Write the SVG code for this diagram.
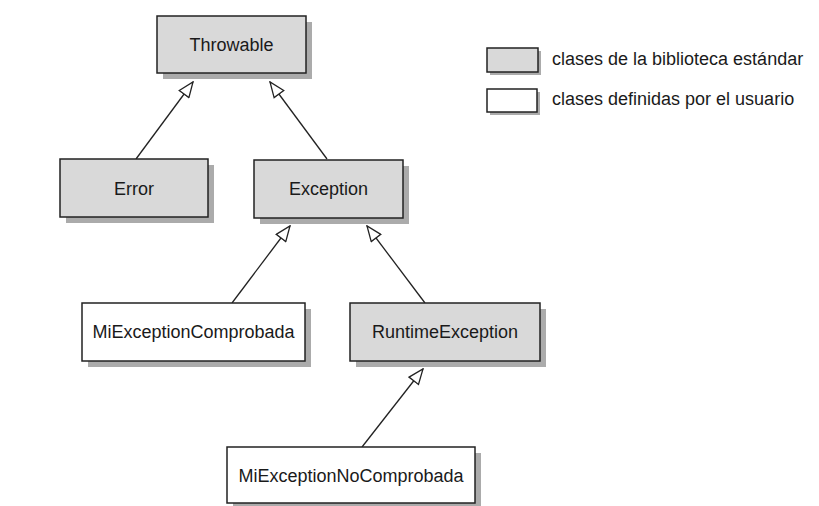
<svg xmlns="http://www.w3.org/2000/svg" width="819" height="506" viewBox="0 0 819 506">
<defs>
<style>
.shadow{fill:#ababab;}
.lib{fill:#d9d9d9;stroke:#222;stroke-width:1.5;}
.usr{fill:#fff;stroke:#222;stroke-width:1.5;}
.t{font-family:"Liberation Sans",Arial,sans-serif;font-size:18px;fill:#1a1a1a;text-anchor:middle;}
.lt{font-family:"Liberation Sans",Arial,sans-serif;font-size:18px;fill:#1a1a1a;}
.conn{stroke:#222;stroke-width:1.3;fill:none;marker-end:url(#tri);}
</style>
<marker id="tri" viewBox="0 0 17 14" refX="16" refY="7" markerWidth="17" markerHeight="14" markerUnits="userSpaceOnUse" orient="auto">
<path d="M1,1 L16,7 L1,13 Z" fill="#fff" stroke="#222" stroke-width="1.3"/>
</marker>
</defs>
<rect width="819" height="506" fill="#fff"/>
<g id="connectors">
<line class="conn" x1="136" y1="159" x2="193" y2="82"/>
<line class="conn" x1="327" y1="159" x2="270" y2="82"/>
<line class="conn" x1="232" y1="303" x2="290" y2="226"/>
<line class="conn" x1="425" y1="303" x2="367" y2="226"/>
<line class="conn" x1="362" y1="447" x2="423" y2="369"/>
</g>
<g id="throwable">
<rect class="shadow" x="163" y="22" width="149" height="57"/>
<rect class="lib" x="157" y="16" width="149" height="57"/>
<text class="t" x="231.5" y="51">Throwable</text>
</g>
<g id="error">
<rect class="shadow" x="66" y="165" width="148" height="58"/>
<rect class="lib" x="60" y="159" width="148" height="58"/>
<text class="t" x="134" y="195">Error</text>
</g>
<g id="exception">
<rect class="shadow" x="260" y="166" width="149" height="58"/>
<rect class="lib" x="254" y="160" width="149" height="58"/>
<text class="t" x="328.5" y="195">Exception</text>
</g>
<g id="miexceptioncomprobada">
<rect class="shadow" x="88" y="309" width="223" height="58"/>
<rect class="usr" x="82" y="303" width="223" height="58"/>
<text class="t" x="193.5" y="338">MiExceptionComprobada</text>
</g>
<g id="runtimeexception">
<rect class="shadow" x="356" y="309" width="190" height="58"/>
<rect class="lib" x="350" y="303" width="190" height="58"/>
<text class="t" x="445" y="338">RuntimeException</text>
</g>
<g id="miexceptionnocomprobada">
<rect class="shadow" x="233" y="453" width="248" height="56"/>
<rect class="usr" x="227" y="447" width="248" height="56"/>
<text class="t" x="351" y="482">MiExceptionNoComprobada</text>
</g>
<g id="legend">
<rect class="shadow" x="490" y="51" width="51" height="24"/>
<rect class="lib" x="487" y="48" width="51" height="24"/>
<text class="lt" x="552" y="65">clases de la biblioteca estándar</text>
<rect class="shadow" x="490" y="92" width="50" height="23"/>
<rect class="usr" x="487" y="89" width="50" height="23"/>
<text class="lt" x="552" y="105">clases definidas por el usuario</text>
</g>
</svg>
